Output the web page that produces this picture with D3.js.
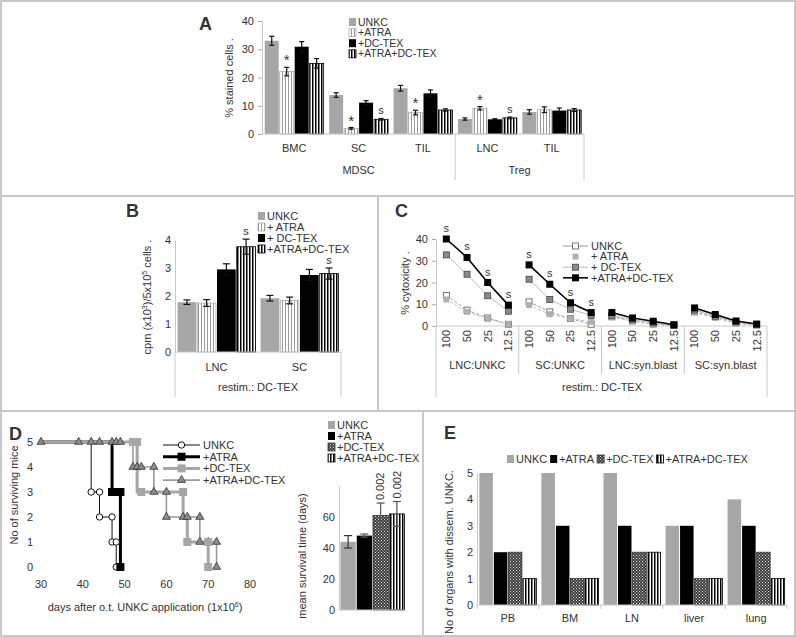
<!DOCTYPE html>
<html>
<head>
<meta charset="utf-8">
<script src="https://cdn.jsdelivr.net/npm/d3@7"></script>
<style>
  body { margin: 0; background: #fff; }
  svg { display: block; font-family: "Liberation Sans", Arial, sans-serif; }
  text { fill: #333; font-size: 11px; }
</style>
</head>
<body>
<div class="canva"></div>
<script>
// ---------- data ----------
const seriesNames = ["UNKC", "+ATRA", "+DC-TEX", "+ATRA+DC-TEX"];

// panel A: % stained cells
const catsA = ["BMC", "SC", "TIL", "LNC", "TIL"];
const groupsA = ["MDSC", "Treg"];
const groupSizeA = [3, 2];
const aUNKC = [33.0, 13.8, 16.2, 5.3, 7.8];
const aATRA = [22.1, 2.0, 7.6, 9.1, 8.6];
const aDCTEX = [30.9, 11.1, 14.4, 5.2, 8.3];
const aBoth = [25.0, 5.2, 8.5, 5.7, 8.5];
const aErrUNKC = [1.6, 0.8, 1.0, 0.4, 0.8];
const aErrATRA = [1.5, 0.3, 0.8, 0.6, 1.0];
const aErrDCTEX = [1.8, 0.7, 1.2, 0.2, 0.9];
const aErrBoth = [1.7, 0.3, 0.4, 0.3, 0.5];
const aMarkATRA = ["*", "*", "*", "*", ""];
const aMarkBoth = ["", "s", "", "s", ""];
const ticksA = [0, 10, 20, 30, 40];

// panel B: proliferation
const catsB = ["LNC", "SC"];
const legendB = ["UNKC", "+ ATRA", "+ DC-TEX", "+ATRA+DC-TEX"];
const bUNKC = [1.78, 1.92];
const bATRA = [1.75, 1.84];
const bDCTEX = [2.95, 2.75];
const bBoth = [3.76, 2.80];
const bErrUNKC = [0.08, 0.1];
const bErrATRA = [0.12, 0.12];
const bErrDCTEX = [0.2, 0.2];
const bErrBoth = [0.27, 0.2];
const bMarkBoth = ["s", "s"];
const ticksB = [0, 1, 2, 3, 4];

// panel C: cytotoxicity
const dosesC = ["100", "50", "25", "12.5"];
const groupsC = ["LNC:UNKC", "SC:UNKC", "LNC:syn.blast", "SC:syn.blast"];
const legendC = ["UNKC", "+ ATRA", "+ DC-TEX", "+ATRA+DC-TEX"];
const cUNKC = [[14, 7.3, 3.7, 0.8], [11.1, 6.5, 3.4, 0.8], [4.2, 2.3, 0.9, 0.3], [6.5, 4.2, 1.4, 0.5]];
const cATRA = [[12.2, 6.5, 3.4, 0.8], [9.6, 5.4, 3.4, 1.9], [4.6, 2.2, 0.8, 0.3], [6.2, 3.7, 1.2, 0.3]];
const cDCTEX = [[32.7, 23.8, 13.9, 6.8], [21.5, 12.2, 7.7, 4.9], [4.9, 2.9, 1.4, 0.3], [7.3, 4.5, 1.9, 0.6]];
const cBoth = [[40, 31.5, 20, 9.6], [28.1, 19.2, 10.7, 6.2], [6.2, 3.7, 2.2, 0.6], [8.3, 5.3, 2.3, 0.9]];
const cMarkGroups = [0, 1];
const ticksC = [0, 10, 20, 30, 40];

// panel D: survival (step points and plotted symbols)
const kmUNKCDays = [30, 42, 44, 47, 48], kmUNKCAlive = [5, 3, 2, 1, 0];
const kmUNKCSymDays = [42, 44, 44, 47, 47, 48, 48], kmUNKCSymAlive = [3, 3, 2, 2, 1, 1, 0];
const kmATRADays = [30, 47, 49], kmATRAAlive = [5, 3, 0];
const kmATRASymDays = [47, 48, 49, 49], kmATRASymAlive = [3, 3, 3, 0];
const kmDCTEXDays = [30, 53, 64, 65, 70], kmDCTEXAlive = [5, 3, 2, 1, 0];
const kmDCTEXSymDays = [52, 53, 54, 64, 65, 70, 70], kmDCTEXSymAlive = [5, 5, 3, 3, 1, 1, 0];
const kmBothDays = [30, 52, 57, 60, 68, 72], kmBothAlive = [5, 4, 3, 2, 1, 0];
const kmBothSymDays = [30, 39, 42, 44, 47, 48, 49, 52, 53, 54, 57, 57, 60, 60, 64, 65, 68, 68, 70, 72, 72];
const kmBothSymAlive = [5, 5, 5, 5, 5, 5, 5, 4, 4, 4, 4, 3, 3, 2, 2, 2, 2, 1, 1, 1, 0];
const ticksDx = [30, 40, 50, 60, 70, 80];
const ticksDy = [0, 1, 2, 3, 4, 5];

// panel D: mean survival time
const survMean = [44, 48, 61, 62];
const survErr = [4, 1, 8, 8];
const survP = ["", "", "0.002", "0.002"];
const ticksS = [0, 20, 40, 60];

// panel E: organs with disseminated UNKC
const organs = ["PB", "BM", "LN", "liver", "lung"];
const eUNKC = [5, 5, 5, 3, 4];
const eATRA = [2, 3, 3, 3, 3];
const eDCTEX = [2, 1, 2, 1, 2];
const eBoth = [1, 1, 2, 1, 1];
const ticksE = [0, 1, 2, 3, 4, 5];

// ---------- svg ----------
const W = 796, H = 637;
const svg = d3.select(".canva").append("svg").attr("width", W).attr("height", H);

const defs = svg.append("defs");
function stripes(id, fg, period, lw) {
    const p = defs.append("pattern").attr("id", id)
        .attr("patternUnits", "userSpaceOnUse")
        .attr("width", period).attr("height", 4);
    p.append("rect").attr("width", period).attr("height", 4).attr("fill", "#fff");
    p.append("rect").attr("width", lw).attr("height", 4).attr("fill", fg);
}
stripes("grayStripes", "#9a9a9a", 3, 1);
stripes("blackStripes", "#000", 3, 1.5);
const chk = defs.append("pattern").attr("id", "checker")
    .attr("patternUnits", "userSpaceOnUse").attr("width", 3).attr("height", 3);
chk.append("rect").attr("width", 3).attr("height", 3).attr("fill", "#3c3c3c");
chk.append("rect").attr("width", 1).attr("height", 1).attr("fill", "#e0e0e0");
chk.append("rect").attr("x", 1.5).attr("y", 1.5).attr("width", 1).attr("height", 1).attr("fill", "#e0e0e0");

const GRAY = "#a6a6a6";
const fillsAB = [GRAY, "url(#grayStripes)", "#000", "url(#blackStripes)"];
const strokesAB = ["none", "#aaa", "none", "#000"];
const fillsDE = [GRAY, "#000", "url(#checker)", "url(#blackStripes)"];
const strokesDE = ["none", "none", "#333", "#000"];

// frame and panel separators
const frame = svg.append("g").attr("stroke", "#c8c8c8").attr("fill", "none").attr("stroke-width", 2);
frame.append("rect").attr("x", 1).attr("y", 1).attr("width", W - 2).attr("height", H - 2);
frame.append("line").attr("x1", 0).attr("x2", W).attr("y1", 196).attr("y2", 196);
frame.append("line").attr("x1", 0).attr("x2", W).attr("y1", 411).attr("y2", 411);
frame.append("line").attr("x1", 378).attr("x2", 378).attr("y1", 196).attr("y2", 411);
frame.append("line").attr("x1", 423).attr("x2", 423).attr("y1", 411).attr("y2", H);

function panelLabel(t, x, y) {
    svg.append("text").attr("x", x).attr("y", y).text(t)
        .style("font-size", "18px").style("font-weight", "bold").attr("fill", "#111");
}

function yLabel(g, x, y, t) {
    return g.append("text").attr("transform", `translate(${x},${y}) rotate(-90)`)
        .attr("text-anchor", "middle").attr("dy", "0.35em").text(t);
}

function leftAxis(g, y, x, ticks, tickSize) {
    const ax = g.append("g").attr("transform", `translate(${x},0)`)
        .call(d3.axisLeft(y).tickValues(ticks).tickFormat(d3.format("~g"))
            .tickSize(tickSize).tickSizeOuter(0).tickPadding(4));
    ax.select(".domain").attr("stroke", "#c8c8c8");
    ax.selectAll(".tick line").attr("stroke", "#aaa");
    ax.selectAll(".tick text").attr("fill", "#333").style("font-size", "11px")
        .style("font-family", "Liberation Sans, Arial, sans-serif");
    return ax;
}

// grouped bars with optional error bars and marks
function groupedBars(g, o) {
    const x0 = d3.scaleBand().domain(d3.range(o.cats.length)).range(o.xRange)
        .paddingInner(o.padIn).paddingOuter(o.padOut);
    const x1 = d3.scaleBand().domain(d3.range(o.values.length)).range([0, x0.bandwidth()]);
    const y = o.y;
    o.values.forEach((vals, s) => {
        g.append("g").selectAll("rect").data(vals).join("rect")
            .attr("x", (d, i) => x0(i) + x1(s) + 0.5)
            .attr("y", d => y(d))
            .attr("width", x1.bandwidth() - 1)
            .attr("height", d => y(0) - y(d))
            .attr("fill", o.fills[s])
            .attr("stroke", o.strokes[s])
            .attr("stroke-width", 0.8);
        if (o.errs) {
            const e = o.errs[s];
            const eg = g.append("g").attr("stroke", "#111").attr("stroke-width", 1.2);
            vals.forEach((v, i) => {
                const cx = x0(i) + x1(s) + x1.bandwidth() / 2;
                const w = o.cap;
                eg.append("line").attr("x1", cx).attr("x2", cx).attr("y1", y(v - e[i])).attr("y2", y(v + e[i]));
                eg.append("line").attr("x1", cx - w).attr("x2", cx + w).attr("y1", y(v + e[i])).attr("y2", y(v + e[i]));
                eg.append("line").attr("x1", cx - w).attr("x2", cx + w).attr("y1", y(v - e[i])).attr("y2", y(v - e[i]));
            });
        }
        if (o.marks && o.marks[s]) {
            o.marks[s].forEach((m, i) => {
                if (!m) return;
                const cx = x0(i) + x1(s) + x1.bandwidth() / 2;
                const top = y(vals[i] + (o.errs ? o.errs[s][i] : 0));
                g.append("text").attr("x", cx).attr("y", top - (m === "*" ? 2 : 4))
                    .attr("text-anchor", "middle").text(m)
                    .style("font-size", m === "*" ? "15px" : "11px");
            });
        }
    });
    // category labels
    g.append("g").selectAll("text").data(o.cats).join("text")
        .attr("x", (d, i) => x0(i) + x0.bandwidth() / 2)
        .attr("y", o.catY).attr("text-anchor", "middle").text(d => d);
    // baseline
    g.append("line").attr("x1", o.xRange[0]).attr("x2", o.xRange[1])
        .attr("y1", y(0)).attr("y2", y(0)).attr("stroke", "#c8c8c8");
    return x0;
}

function legendColumn(g, x, y0, step, names, fills, strokes, size) {
    names.forEach((n, i) => {
        const cy = y0 + i * step;
        g.append("rect").attr("x", x).attr("y", cy - 4)
            .attr("width", 7).attr("height", 8).attr("fill", fills[i])
            .attr("stroke", strokes[i]).attr("stroke-width", 0.8);
        g.append("text").attr("x", x + 9).attr("y", cy).attr("dy", "0.35em")
            .style("font-size", size).text(n);
    });
}

// ---------- panel A ----------
panelLabel("A", 199, 30);
const gA = svg.append("g");
const yA = d3.scaleLinear().domain([0, 40]).range([134, 21]);
leftAxis(gA, yA, 262, ticksA, 4);
const x0A = groupedBars(gA, {
    cats: catsA, values: [aUNKC, aATRA, aDCTEX, aBoth],
    errs: [aErrUNKC, aErrATRA, aErrDCTEX, aErrBoth],
    marks: [null, aMarkATRA, null, aMarkBoth],
    fills: fillsAB, strokes: strokesAB, xRange: [262, 584], padIn: 0.07, padOut: 0.035,
    y: yA, cap: 2.5, catY: 152
});
yLabel(gA, 229, 78, "% stained cells .");
// group labels
let startA = 0;
groupsA.forEach((gname, k) => {
    const a = x0A(startA) - x0A.step() * x0A.paddingInner() / 2;
    const endIdx = startA + groupSizeA[k] - 1;
    const b = x0A(endIdx) + x0A.bandwidth() + x0A.step() * x0A.paddingInner() / 2;
    gA.append("text").attr("x", (Math.max(a, 262) + Math.min(b, 584)) / 2).attr("y", 174)
        .attr("text-anchor", "middle").text(gname);
    if (k > 0) gA.append("line").attr("x1", a).attr("x2", a).attr("y1", 134).attr("y2", 180).attr("stroke", "#c8c8c8");
    startA += groupSizeA[k];
});
gA.append("line").attr("x1", 584).attr("x2", 584).attr("y1", 134).attr("y2", 180).attr("stroke", "#c8c8c8");
legendColumn(gA, 349, 22, 10.6, seriesNames, fillsAB, strokesAB, "10.5px");

// ---------- panel B ----------
panelLabel("B", 126, 217);
const gB = svg.append("g");
const yB = d3.scaleLinear().domain([0, 4]).range([352, 240]);
leftAxis(gB, yB, 175, ticksB, 0);
groupedBars(gB, {
    cats: catsB, values: [bUNKC, bATRA, bDCTEX, bBoth],
    errs: [bErrUNKC, bErrATRA, bErrDCTEX, bErrBoth],
    marks: [null, null, null, bMarkBoth],
    fills: fillsAB, strokes: strokesAB, xRange: [175, 341], padIn: 0.05, padOut: 0.025,
    y: yB, cap: 3.5, catY: 371
});
const yLabB = gB.append("text").attr("transform", "translate(147,297) rotate(-90)")
    .attr("text-anchor", "middle").attr("dy", "0.35em");
yLabB.append("tspan").text("cpm (x10");
yLabB.append("tspan").attr("dy", "-4").style("font-size", "7px").text("3");
yLabB.append("tspan").attr("dy", "4").text(")/5x10");
yLabB.append("tspan").attr("dy", "-4").style("font-size", "7px").text("5");
yLabB.append("tspan").attr("dy", "4").text(" cells .");
gB.append("text").attr("x", 258).attr("y", 391).attr("text-anchor", "middle").text("restim.: DC-TEX");
[175, 341].forEach(x => gB.append("line").attr("x1", x).attr("x2", x).attr("y1", 352).attr("y2", 397).attr("stroke", "#c8c8c8"));
legendColumn(gB, 258, 216, 11, legendB, fillsAB, strokesAB, "11px");

// ---------- panel C ----------
panelLabel("C", 395, 217);
const gC = svg.append("g");
const yC = d3.scaleLinear().domain([0, 40]).range([326, 239]);
leftAxis(gC, yC, 436, ticksC, 4);
const xg = d3.scaleBand().domain(d3.range(groupsC.length)).range([436, 767]);
const xd = d3.scaleBand().domain(d3.range(dosesC.length)).range([0, xg.bandwidth()]);
const px = (gi, di) => xg(gi) + xd(di) + xd.bandwidth() / 2;
gC.append("line").attr("x1", 436).attr("x2", 767).attr("y1", yC(0)).attr("y2", yC(0)).attr("stroke", "#c8c8c8");

const cStyles = [
    { data: cUNKC, line: "#999", lw: 1, dash: "3,2", fill: "#fff", stroke: "#555", size: 6 },
    { data: cATRA, line: "#bbb", lw: 1, dash: "3,2", fill: "#b0b0b0", stroke: "none", size: 6 },
    { data: cDCTEX, line: "#bbb", lw: 1, dash: null, fill: "#8a8a8a", stroke: "#444", size: 6 },
    { data: cBoth, line: "#000", lw: 1.6, dash: null, fill: "#000", stroke: "none", size: 7 }
];
const lineC = d3.line().x(d => d[0]).y(d => d[1]);
cStyles.forEach(st => {
    st.data.forEach((grp, gi) => {
        const pts = grp.map((v, di) => [px(gi, di), yC(v)]);
        gC.append("path").attr("d", lineC(pts)).attr("fill", "none")
            .attr("stroke", st.line).attr("stroke-width", st.lw).attr("stroke-dasharray", st.dash);
        gC.append("g").selectAll("rect").data(pts).join("rect")
            .attr("x", d => d[0] - st.size / 2).attr("y", d => d[1] - st.size / 2)
            .attr("width", st.size).attr("height", st.size)
            .attr("fill", st.fill).attr("stroke", st.stroke).attr("stroke-width", 0.8);
    });
});
cMarkGroups.forEach(gi => {
    cBoth[gi].forEach((v, di) => {
        gC.append("text").attr("x", px(gi, di)).attr("y", yC(v) - 7)
            .attr("text-anchor", "middle").text("s");
    });
});
// dose labels
groupsC.forEach((gname, gi) => {
    dosesC.forEach((d, di) => {
        gC.append("text").attr("transform", `translate(${px(gi, di)},330) rotate(-90)`)
            .attr("text-anchor", "end").attr("dy", "0.35em").text(d);
    });
    gC.append("text").attr("x", xg(gi) + xg.bandwidth() / 2).attr("y", 369)
        .attr("text-anchor", "middle").text(gname);
});
xg.domain().forEach(gi => {
    const x = xg(gi);
    gC.append("line").attr("x1", x).attr("x2", x).attr("y1", 326).attr("y2", gi === 0 ? 397 : 374).attr("stroke", "#c8c8c8");
});
gC.append("line").attr("x1", 767).attr("x2", 767).attr("y1", 326).attr("y2", 397).attr("stroke", "#c8c8c8");
gC.append("text").attr("x", 602).attr("y", 391).attr("text-anchor", "middle").text("restim.: DC-TEX");
yLabel(gC, 405, 283, "% cytoxicity .");
cStyles.forEach((st, i) => {
    const cy = 246 + i * 10.6;
    gC.append("line").attr("x1", 563).attr("x2", 588).attr("y1", cy).attr("y2", cy)
        .attr("stroke", i === 1 ? "none" : st.line).attr("stroke-width", st.lw);
    gC.append("rect").attr("x", 575.5 - st.size / 2).attr("y", cy - st.size / 2)
        .attr("width", st.size).attr("height", st.size)
        .attr("fill", st.fill).attr("stroke", st.stroke).attr("stroke-width", 0.8);
    gC.append("text").attr("x", 591).attr("y", cy).attr("dy", "0.35em").text(legendC[i]);
});

// ---------- panel D: Kaplan-Meier ----------
panelLabel("D", 9, 440);
const gD = svg.append("g");
const xD = d3.scaleLinear().domain([30, 80]).range([41, 250]);
const yD = d3.scaleLinear().domain([0, 5]).range([567, 442]);
gD.append("g").selectAll("text").data(ticksDx).join("text")
    .attr("x", d => xD(d)).attr("y", 588).attr("text-anchor", "middle").text(d => d);
gD.append("g").selectAll("text").data(ticksDy).join("text")
    .attr("x", 33).attr("y", d => yD(d)).attr("dy", "0.35em").attr("text-anchor", "end").text(d => d);
const xLabD = gD.append("text").attr("x", 145).attr("y", 611).attr("text-anchor", "middle");
xLabD.append("tspan").text("days after o.t. UNKC application (1x10");
xLabD.append("tspan").attr("dy", "-4").style("font-size", "7px").text("6");
xLabD.append("tspan").attr("dy", "4").text(")");
yLabel(gD, 14, 495, "No of surviving mice");

const stepLine = d3.line().x(d => xD(d[0])).y(d => yD(d[1])).curve(d3.curveStepAfter);
const triangle = d3.symbol().type(d3.symbolTriangle).size(28);
const kmSeries = [
    { days: kmUNKCDays, alive: kmUNKCAlive, sd: kmUNKCSymDays, sa: kmUNKCSymAlive, color: "#111", lw: 1, sym: "circle", sf: "#fff", ss: "#111" },
    { days: kmATRADays, alive: kmATRAAlive, sd: kmATRASymDays, sa: kmATRASymAlive, color: "#000", lw: 3, sym: "square", sf: "#000", ss: "#000" },
    { days: kmBothDays, alive: kmBothAlive, sd: kmBothSymDays, sa: kmBothSymAlive, color: "#9a9a9a", lw: 1.6, sym: "triangle", sf: "#8c8c8c", ss: "#333" },
    { days: kmDCTEXDays, alive: kmDCTEXAlive, sd: kmDCTEXSymDays, sa: kmDCTEXSymAlive, color: GRAY, lw: 3, sym: "square", sf: GRAY, ss: GRAY }
];
function drawSym(g, s, x, y) {
    if (s.sym === "circle") {
        g.append("circle").attr("cx", x).attr("cy", y).attr("r", 3.2)
            .attr("fill", s.sf).attr("stroke", s.ss).attr("stroke-width", 1);
    } else if (s.sym === "square") {
        g.append("rect").attr("x", x - 3.5).attr("y", y - 3.5).attr("width", 7).attr("height", 7)
            .attr("fill", s.sf).attr("stroke", s.ss);
    } else {
        g.append("path").attr("d", triangle).attr("transform", `translate(${x},${y})`)
            .attr("fill", s.sf).attr("stroke", s.ss).attr("stroke-width", 0.8);
    }
}
kmSeries.forEach(s => {
    const pts = s.days.map((d, i) => [d, s.alive[i]]);
    gD.append("path").attr("d", stepLine(pts)).attr("fill", "none")
        .attr("stroke", s.color).attr("stroke-width", s.lw);
});
kmSeries.forEach(s => {
    s.sd.forEach((d, i) => drawSym(gD, s, xD(d), yD(s.sa[i])));
});
// legend order: UNKC, ATRA, DC-TEX, ATRA+DC
[0, 1, 3, 2].forEach((k, i) => {
    const s = kmSeries[k];
    const cy = 445 + i * 11.7;
    gD.append("line").attr("x1", 163).attr("x2", 200).attr("y1", cy).attr("y2", cy)
        .attr("stroke", s.color).attr("stroke-width", s.lw);
    drawSym(gD, s, 181.5, cy);
    gD.append("text").attr("x", 203).attr("y", cy).attr("dy", "0.35em").text(seriesNames[i]);
});

// ---------- panel D: mean survival bars ----------
const gS = svg.append("g");
const yS = d3.scaleLinear().domain([0, 80]).range([610, 486]);
leftAxis(gS, yS, 339, ticksS, 0);
const xS = d3.scaleBand().domain(d3.range(survMean.length)).range([340, 405]);
gS.append("g").selectAll("rect").data(survMean).join("rect")
    .attr("x", (d, i) => xS(i) + 0.5).attr("y", d => yS(d))
    .attr("width", xS.bandwidth() - 1).attr("height", d => yS(0) - yS(d))
    .attr("fill", (d, i) => fillsDE[i]).attr("stroke", (d, i) => strokesDE[i]).attr("stroke-width", 0.8);
survMean.forEach((v, i) => {
    const cx = xS(i) + xS.bandwidth() / 2;
    const e = survErr[i];
    const eg = gS.append("g").attr("stroke", i === 0 ? "#333" : "#555").attr("stroke-width", 1.2);
    eg.append("line").attr("x1", cx).attr("x2", cx).attr("y1", yS(v - e)).attr("y2", yS(v + e));
    eg.append("line").attr("x1", cx - 4).attr("x2", cx + 4).attr("y1", yS(v + e)).attr("y2", yS(v + e));
    eg.append("line").attr("x1", cx - 4).attr("x2", cx + 4).attr("y1", yS(v - e)).attr("y2", yS(v - e));
    if (survP[i]) {
        gS.append("text").attr("transform", `translate(${cx},${yS(v + e) - 3}) rotate(-90)`)
            .attr("dy", "0.35em").text(survP[i]);
    }
});
gS.append("line").attr("x1", 339).attr("x2", 406).attr("y1", yS(0)).attr("y2", yS(0)).attr("stroke", "#c8c8c8");
yLabel(gS, 302, 556, "mean survival time (days)");
legendColumn(gS, 328, 425, 11, seriesNames, fillsDE, strokesDE, "11px");

// ---------- panel E ----------
panelLabel("E", 444, 439);
const gE = svg.append("g");
const yE = d3.scaleLinear().domain([0, 5]).range([605, 473]);
leftAxis(gE, yE, 477, ticksE, 0);
const x0E = groupedBars(gE, {
    cats: organs, values: [eUNKC, eATRA, eDCTEX, eBoth],
    fills: fillsDE, strokes: strokesDE, xRange: [477, 787], padIn: 0.065, padOut: 0.03,
    y: yE, catY: 622
});
d3.range(organs.length + 1).forEach(i => {
    const x = i === 0 ? 477 : (i === organs.length ? 787 : x0E(i) - x0E.step() * x0E.paddingInner() / 2);
    gE.append("line").attr("x1", x).attr("x2", x).attr("y1", 605).attr("y2", 609).attr("stroke", "#c8c8c8");
});
yLabel(gE, 449, 552, "No of organs with dissem. UNKC.");
// horizontal legend
let lx = 507;
seriesNames.forEach((n, i) => {
    gE.append("rect").attr("x", lx).attr("y", 455).attr("width", 7).attr("height", 8)
        .attr("fill", fillsDE[i]).attr("stroke", strokesDE[i]).attr("stroke-width", 0.8);
    const t = gE.append("text").attr("x", lx + 9).attr("y", 459).attr("dy", "0.35em").text(n);
    lx += 9 + t.node().getComputedTextLength() + 3;
});
</script>
</body>
</html>
